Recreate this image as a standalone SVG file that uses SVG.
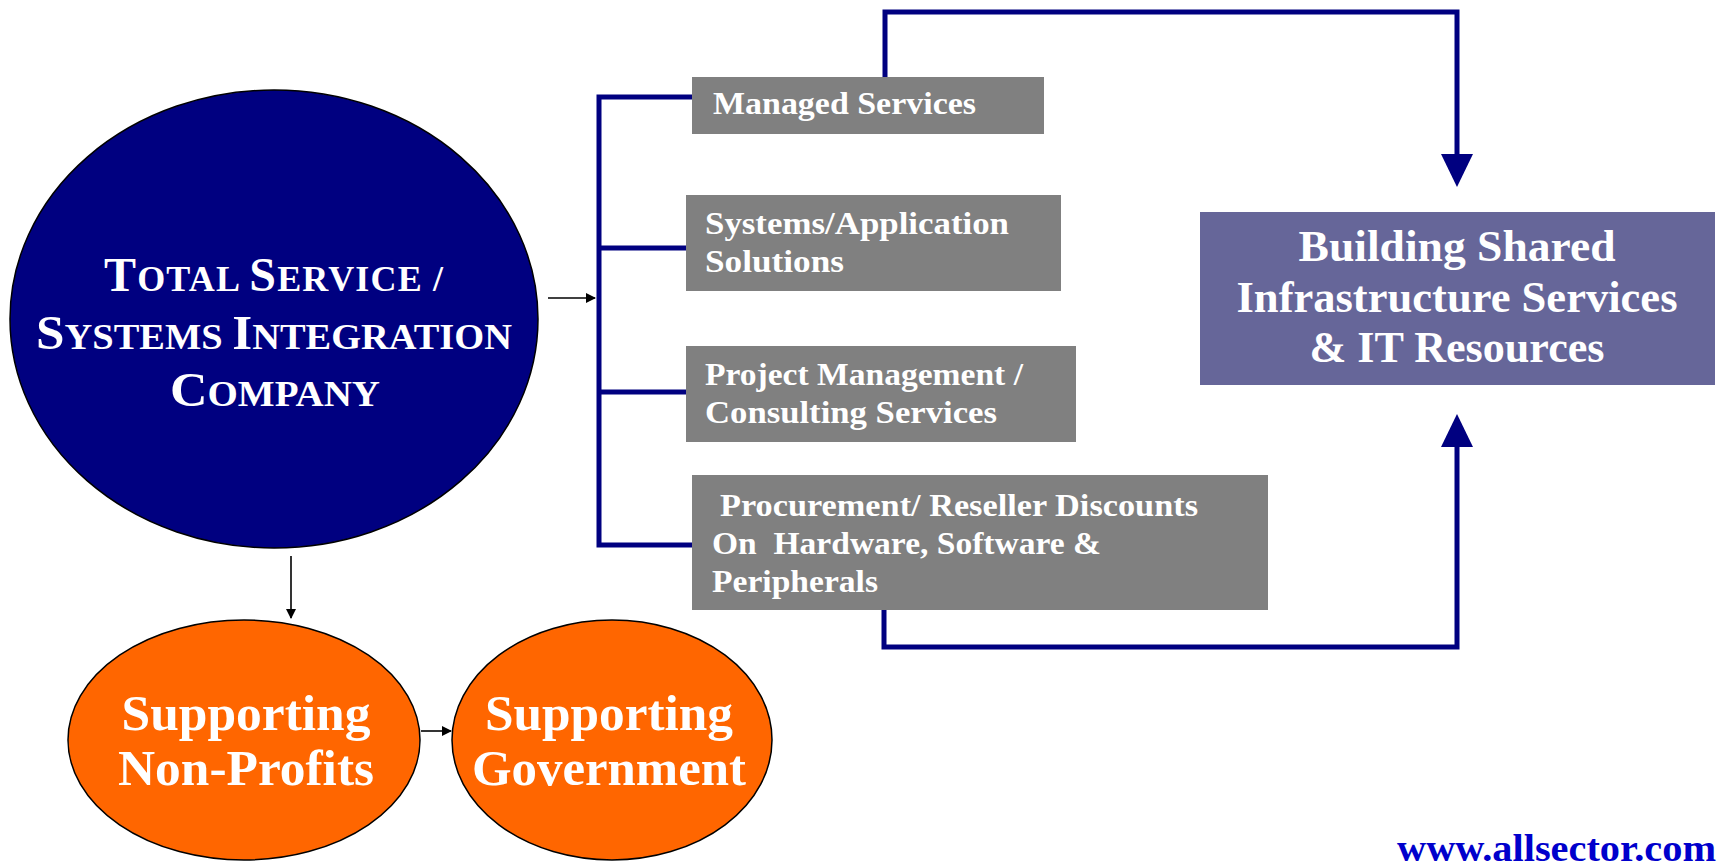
<svg xmlns="http://www.w3.org/2000/svg" width="1720" height="866" viewBox="0 0 1720 866">
<style>
.t{font-family:"Liberation Serif","DejaVu Serif",serif;font-weight:bold;fill:#fff}
.box{fill:#808080}
.nav{fill:none;stroke:#000080;stroke-width:5}
.blk{fill:none;stroke:#000;stroke-width:1.6}
</style>
<defs>
<marker id="ah" markerWidth="10" markerHeight="10" refX="9" refY="5" orient="auto" markerUnits="userSpaceOnUse"><path d="M0,0 L10,5 L0,10 Z" fill="#000"/></marker>
</defs>
<rect width="1720" height="866" fill="#fff"/>
<g id="connectors">
<line class="blk" x1="548" y1="298" x2="595" y2="298" marker-end="url(#ah)"/>
<line class="blk" x1="291" y1="556" x2="291" y2="618" marker-end="url(#ah)"/>
<line class="blk" x1="421" y1="731" x2="451" y2="731" marker-end="url(#ah)"/>
<polyline class="nav" points="692,97 599,97 599,545 692,545"/>
<line class="nav" x1="599" y1="248" x2="686" y2="248"/>
<line class="nav" x1="599" y1="392" x2="686" y2="392"/>
<polyline class="nav" points="885,77 885,12 1457,12 1457,160"/>
<path d="M1441,154 L1473,154 L1457,187 Z" fill="#000080"/>
<polyline class="nav" points="884,610 884,647 1457,647 1457,440"/>
<path d="M1441,447 L1473,447 L1457,414 Z" fill="#000080"/>
</g>
<g id="node-total">
<ellipse cx="274" cy="319" rx="264" ry="229" fill="#000080" stroke="#000" stroke-width="1.5"/>
<text class="t" font-size="36" lengthAdjust="spacingAndGlyphs"><tspan x="104" y="291" textLength="339"><tspan font-size="48">T</tspan>OTAL <tspan font-size="48">S</tspan>ERVICE /</tspan></text>
<text class="t" font-size="36" lengthAdjust="spacingAndGlyphs" x="36" y="349" textLength="476"><tspan font-size="48">S</tspan>YSTEMS <tspan font-size="48">I</tspan>NTEGRATION</text>
<text class="t" font-size="36" lengthAdjust="spacingAndGlyphs" x="170" y="406" textLength="210"><tspan font-size="48">C</tspan>OMPANY</text>
</g>
<g id="node-managed">
<rect class="box" x="692" y="77" width="352" height="57"/>
<text class="t" font-size="31" x="713" y="114" textLength="263" lengthAdjust="spacingAndGlyphs">Managed Services</text>
</g>
<g id="node-systems">
<rect class="box" x="686" y="195" width="375" height="96"/>
<text class="t" font-size="31" x="705" y="234" textLength="304" lengthAdjust="spacingAndGlyphs">Systems/Application</text>
<text class="t" font-size="31" x="705" y="272" textLength="139" lengthAdjust="spacingAndGlyphs">Solutions</text>
</g>
<g id="node-project">
<rect class="box" x="686" y="346" width="390" height="96"/>
<text class="t" font-size="31" x="705" y="385" textLength="318" lengthAdjust="spacingAndGlyphs">Project Management /</text>
<text class="t" font-size="31" x="705" y="423" textLength="292" lengthAdjust="spacingAndGlyphs">Consulting Services</text>
</g>
<g id="node-procurement">
<rect class="box" x="692" y="475" width="576" height="135"/>
<text class="t" font-size="31" x="720" y="516" textLength="478" lengthAdjust="spacingAndGlyphs">Procurement/ Reseller Discounts</text>
<text class="t" font-size="31" x="712" y="554" textLength="389" lengthAdjust="spacingAndGlyphs" xml:space="preserve">On  Hardware, Software &amp;</text>
<text class="t" font-size="31" x="712" y="592" textLength="166" lengthAdjust="spacingAndGlyphs">Peripherals</text>
</g>
<g id="node-shared">
<rect x="1200" y="212" width="515" height="173" fill="#666699"/>
<text class="t" font-size="44" text-anchor="middle" lengthAdjust="spacingAndGlyphs" x="1457" y="261" textLength="317">Building Shared</text>
<text class="t" font-size="44" text-anchor="middle" lengthAdjust="spacingAndGlyphs" x="1457" y="312" textLength="441">Infrastructure Services</text>
<text class="t" font-size="44" text-anchor="middle" lengthAdjust="spacingAndGlyphs" x="1457" y="362" textLength="295">&amp; IT Resources</text>
</g>
<g id="node-nonprofits">
<ellipse cx="244" cy="740" rx="176" ry="120" fill="#FF6600" stroke="#000" stroke-width="1.5"/>
<text class="t" font-size="51" text-anchor="middle" lengthAdjust="spacingAndGlyphs" x="246" y="730" textLength="249">Supporting</text>
<text class="t" font-size="51" text-anchor="middle" lengthAdjust="spacingAndGlyphs" x="246" y="785" textLength="256">Non-Profits</text>
</g>
<g id="node-government">
<ellipse cx="612" cy="740" rx="160" ry="120" fill="#FF6600" stroke="#000" stroke-width="1.5"/>
<text class="t" font-size="51" text-anchor="middle" lengthAdjust="spacingAndGlyphs" x="609" y="730" textLength="248">Supporting</text>
<text class="t" font-size="51" text-anchor="middle" lengthAdjust="spacingAndGlyphs" x="609" y="785" textLength="274">Government</text>
</g>
<text x="1716" y="861" text-anchor="end" font-family="Liberation Serif, serif" font-weight="bold" font-size="37" fill="#0000CC" textLength="319" lengthAdjust="spacingAndGlyphs">www.allsector.com</text>
</svg>
